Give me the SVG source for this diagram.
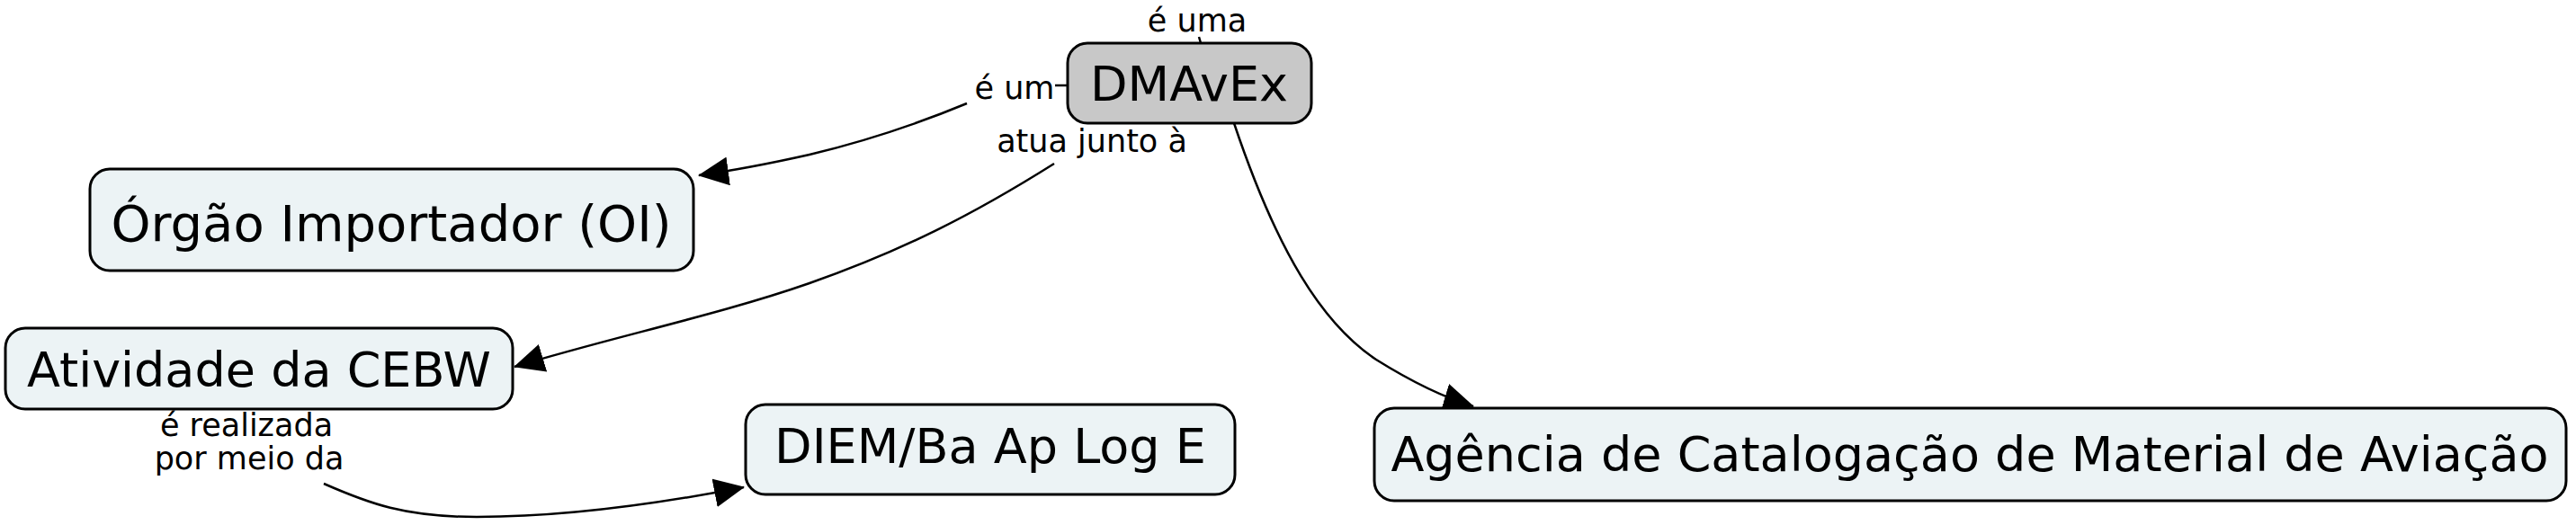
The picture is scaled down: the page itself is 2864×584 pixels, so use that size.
<svg xmlns="http://www.w3.org/2000/svg" width="2864" height="584" viewBox="0 0 2864 584">
<style>
.node rect{fill:#ecf3f5;stroke:#000;stroke-width:3}
.node text{font-family:"DejaVu Sans",Verdana,sans-serif;font-size:54px;fill:#000;text-anchor:middle}
.lbl{font-family:"DejaVu Sans",Verdana,sans-serif;font-size:35px;fill:#000;text-anchor:middle}
.conn{fill:none;stroke:#000;stroke-width:2.5}
</style>
<defs>
<marker id="arr" markerUnits="userSpaceOnUse" markerWidth="34" markerHeight="32" refX="33" refY="16" orient="auto" viewBox="0 0 34 32">
<path d="M0,0 L34,16 L0,32 z" fill="#000"/>
</marker>
</defs>
<rect width="2864" height="584" fill="#fff"/>
<g id="connectors">
<path class="conn" d="M1173,95 L1187,95"/>
<path class="conn" d="M1075,115 C1010,142 950,160 900,172 C860,181 820,189 777,195" marker-end="url(#arr)"/>
<path class="conn" d="M1172,182 C1080,240 1000,280 900,315 C800,350 680,375 572,408" marker-end="url(#arr)"/>
<path class="conn" d="M1333,41 L1335,48"/>
<path class="conn" d="M1372,137 C1420,280 1470,360 1530,400 C1570,425 1605,442 1638,452" marker-end="url(#arr)"/>
<path class="conn" d="M360,538 C410,560 450,575 530,575 C640,575 760,555 827,542" marker-end="url(#arr)"/>
</g>
<g id="n-dmavex" class="node">
<rect x="1187" y="48" width="271" height="89" rx="22" style="fill:#c8c8c8"/>
<text x="1322" y="112">DMAvEx</text>
</g>
<g id="n-orgao" class="node">
<rect x="100" y="188" width="671" height="113" rx="22"/>
<text x="435" y="268" style="font-size:56px">Órgão Importador (OI)</text>
</g>
<g id="n-atividade" class="node">
<rect x="6" y="365" width="564" height="90" rx="22"/>
<text x="288" y="430">Atividade da CEBW</text>
</g>
<g id="n-diem" class="node">
<rect x="829" y="450" width="544" height="100" rx="22"/>
<text x="1101" y="515">DIEM/Ba Ap Log E</text>
</g>
<g id="n-agencia" class="node">
<rect x="1528" y="454" width="1325" height="103" rx="22"/>
<text x="2190" y="524">Agência de Catalogação de Material de Aviação</text>
</g>
<g id="labels">
<text class="lbl" x="1128" y="110">é um</text>
<text class="lbl" x="1214" y="169">atua junto à</text>
<text class="lbl" x="1331" y="35">é uma</text>
<text class="lbl" x="274" y="485">é realizada</text>
<text class="lbl" x="277" y="522">por meio da</text>
</g>
</svg>
